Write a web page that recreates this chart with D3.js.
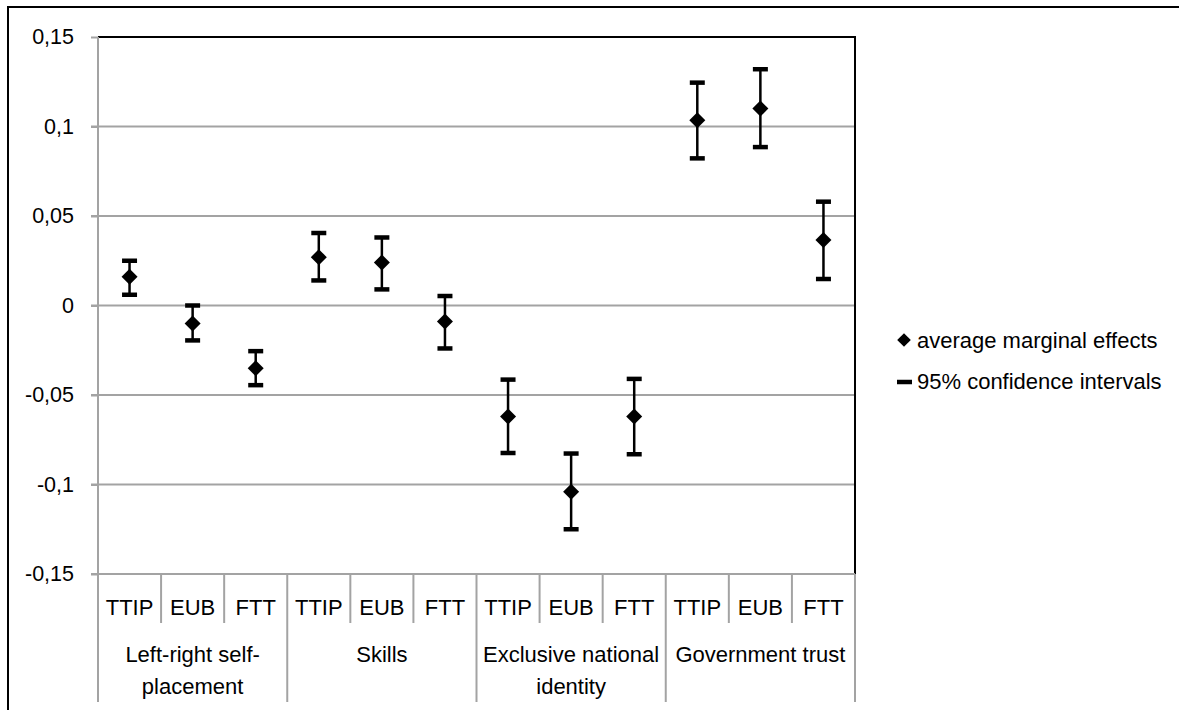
<!DOCTYPE html>
<html>
<head>
<meta charset="utf-8">
<script src="https://cdn.jsdelivr.net/npm/d3@7"></script>
<style>
  html, body { margin: 0; padding: 0; background: #fff; }
  svg { display: block; font-family: "Liberation Sans", Arial, sans-serif; }
</style>
</head>
<body>
<svg id="chart" width="1179" height="710"></svg>
<script>
// Predictor groups and the three policy outcomes within each group
const groupLabels = [
  ["Left-right self-", "placement"],
  ["Skills"],
  ["Exclusive national", "identity"],
  ["Government trust"]
];
const outcomes = ["TTIP", "EUB", "FTT"];

// Average marginal effects and 95% confidence bounds, in category order
const effects = [0.016, -0.010, -0.035, 0.027, 0.024, -0.009, -0.062, -0.104, -0.062, 0.1035, 0.110, 0.0366];
const lowerCI = [0.006, -0.0195, -0.0445, 0.014, 0.009, -0.024, -0.0824, -0.125, -0.0831, 0.0822, 0.0885, 0.0148];
const upperCI = [0.025, 0.000, -0.0255, 0.0405, 0.038, 0.0053, -0.0414, -0.0827, -0.041, 0.1245, 0.132, 0.058];

const yTicks = [-0.15, -0.1, -0.05, 0, 0.05, 0.1, 0.15];
const legendItems = ["average marginal effects", "95% confidence intervals"];

const svg = d3.select("#chart");
const plot = { left: 98, right: 855, top: 37, bottom: 574 };
const gridColor = "#a3a3a3";

const categories = [];
groupLabels.forEach((g, gi) => outcomes.forEach(o => categories.push(gi + "|" + o)));
const rows = categories.map((c, i) => ({ key: c, outcome: outcomes[i % 3], v: effects[i], lo: lowerCI[i], hi: upperCI[i] }));

const x = d3.scaleBand().domain(categories).range([plot.left, plot.right]).padding(0);
const y = d3.scaleLinear().domain([-0.15, 0.15]).range([plot.bottom, plot.top]);

const locale = d3.formatLocale({ decimal: ",", thousands: ".", grouping: [3], currency: ["", ""], minus: "-" });
const fmt = locale.format(".2~f");

// outer frame
svg.append("rect")
  .attr("x", 8).attr("y", 7).attr("width", 1300).attr("height", 800)
  .attr("fill", "none").attr("stroke", "#000").attr("stroke-width", 2);

// horizontal gridlines
svg.append("g").selectAll("line").data(yTicks.filter(t => t > -0.15 && t < 0.15)).join("line")
  .attr("x1", plot.left - 7).attr("x2", plot.right)
  .attr("y1", d => y(d)).attr("y2", d => y(d))
  .attr("stroke", gridColor).attr("stroke-width", 2);

// plot frame: top and right in black
svg.append("path")
  .attr("d", `M${plot.left},${plot.top}H${plot.right}V${plot.bottom}`)
  .attr("fill", "none").attr("stroke", "#000").attr("stroke-width", 2);

// y axis
const yAxis = svg.append("g").attr("transform", `translate(${plot.left},0)`)
  .call(d3.axisLeft(y).tickValues(yTicks).tickFormat(fmt).tickSize(7).tickPadding(17));
yAxis.select(".domain").remove();
yAxis.selectAll(".tick line").attr("stroke", gridColor).attr("stroke-width", 2);
yAxis.selectAll(".tick text").attr("font-size", 21.5).attr("fill", "#000")
  .attr("font-family", "Liberation Sans, Arial, sans-serif");
svg.append("line")
  .attr("x1", plot.left).attr("x2", plot.left).attr("y1", plot.top).attr("y2", 702)
  .attr("stroke", gridColor).attr("stroke-width", 2);

// x axis baseline
svg.append("line")
  .attr("x1", plot.left - 7).attr("x2", plot.right).attr("y1", plot.bottom).attr("y2", plot.bottom)
  .attr("stroke", gridColor).attr("stroke-width", 2);

// category separators: short within a group, long between groups
const bounds = categories.map((c, i) => ({ x: x(c) + x.bandwidth(), end: i % 3 === 2 }));
svg.append("g").selectAll("line").data(bounds).join("line")
  .attr("x1", d => d.x).attr("x2", d => d.x)
  .attr("y1", plot.bottom).attr("y2", d => d.end ? 702 : 623)
  .attr("stroke", gridColor).attr("stroke-width", 2);

// outcome labels
svg.append("g").selectAll("text").data(rows).join("text")
  .attr("x", d => x(d.key) + x.bandwidth() / 2).attr("y", 615)
  .attr("text-anchor", "middle").attr("font-size", 22).text(d => d.outcome);

// group labels
const gLab = svg.append("g").selectAll("text").data(groupLabels).join("text")
  .attr("text-anchor", "middle").attr("font-size", 22)
  .attr("x", (d, i) => (x(i + "|TTIP") + x(i + "|FTT") + x.bandwidth()) / 2);
gLab.selectAll("tspan").data(d => d).join("tspan")
  .attr("x", function () { return this.parentNode.getAttribute("x"); })
  .attr("y", (d, i) => 662 + i * 32).text(d => d);

// confidence intervals
const cx = d => x(d.key) + x.bandwidth() / 2;
const ci = svg.append("g");
ci.selectAll("line.whisker").data(rows).join("line").attr("class", "whisker")
  .attr("x1", cx).attr("x2", cx).attr("y1", d => y(d.hi)).attr("y2", d => y(d.lo))
  .attr("stroke", "#000").attr("stroke-width", 2.5);
["hi", "lo"].forEach(k => {
  ci.selectAll("line.cap-" + k).data(rows).join("line").attr("class", "cap-" + k)
    .attr("x1", d => cx(d) - 7.5).attr("x2", d => cx(d) + 7.5)
    .attr("y1", d => y(d[k])).attr("y2", d => y(d[k]))
    .attr("stroke", "#000").attr("stroke-width", 4.5);
});

// point estimates as diamonds
const diamond = d3.symbol(d3.symbolSquare, 128);
svg.append("g").selectAll("path").data(rows).join("path")
  .attr("d", diamond)
  .attr("transform", d => `translate(${cx(d)},${y(d.v)}) rotate(45)`)
  .attr("fill", "#000");

// legend
const leg = svg.append("g");
leg.append("path").attr("d", diamond).attr("transform", "translate(904,340) rotate(45) scale(0.85)").attr("fill", "#000");
leg.append("line").attr("x1", 897).attr("x2", 912).attr("y1", 382).attr("y2", 382)
  .attr("stroke", "#000").attr("stroke-width", 4.5);
leg.selectAll("text").data(legendItems).join("text")
  .attr("x", 917).attr("y", (d, i) => 348 + i * 41)
  .attr("font-size", 22).text(d => d);
</script>
</body>
</html>
